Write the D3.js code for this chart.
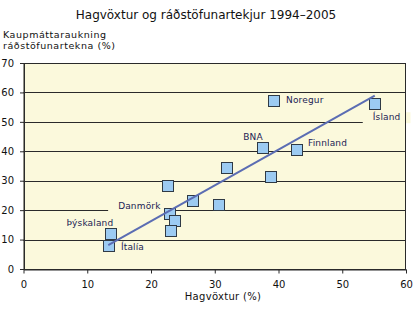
<!DOCTYPE html>
<html><head><meta charset="utf-8">
<script src="https://cdn.jsdelivr.net/npm/d3@7"></script>
<style>body{margin:0;background:#fff;} text{font-family:"DejaVu Sans",Verdana,sans-serif;}</style>
</head><body>
<svg id="c" width="414" height="324"></svg>
<script>
const countries = ["Ísland","Noregur","BNA","Finnland","Danmörk","Þýskaland","Ítalía","","","","","","",""];
const growth   = [55.1, 39.3, 37.6, 42.9, 23.0, 13.8, 13.4, 22.7, 26.6, 30.7, 23.8, 23.1, 31.9, 38.9];
const income   = [56.0, 57.2, 41.0, 40.4, 18.8, 11.8, 7.8, 28.2, 23.2, 21.9, 16.4, 12.9, 34.2, 31.2];
const trendX = [13.3, 55.1];
const trendY = [8.1, 58.9];
const xTicks = [0,10,20,30,40,50,60];
const yTicks = [0,10,20,30,40,50,60,70];
const title = "Hagvöxtur og ráðstöfunartekjur 1994–2005";
const xTitle = "Hagvöxtur (%)";
const yTitle = ["Kaupmáttaraukning","ráðstöfunartekna (%)"];
// label placement offsets (dx, dy from point center in px)
const labelPos = {"Ísland":[-2,16],"Noregur":[12,2.5],"BNA":[-20,-8],"Finnland":[11,-4],"Danmörk":[-52,-4.5],"Þýskaland":[-45,-8],"Ítalía":[12,4]};

const svg = d3.select("#c");
const L=23.5, R=406, T=63, B=269;
const x = d3.scaleLinear().domain([0,60]).range([L,R]);
const y = d3.scaleLinear().domain([0,70]).range([B,T]);
const bg = "#fbf9dc";

svg.append("text").attr("x",206).attr("y",19).attr("text-anchor","middle")
  .attr("font-size",12).attr("fill","#111").text(title);
yTitle.forEach((t,i)=>svg.append("text").attr("x",3).attr("y",38+i*10.5).attr("font-size",9.5)
  .attr("letter-spacing",0.55).attr("fill","#111").text(t));

svg.append("rect").attr("x",L).attr("y",T).attr("width",R-L).attr("height",B-T).attr("fill",bg);
// gridlines
svg.append("g").selectAll("line").data(yTicks.filter(d=>d>0&&d<70)).join("line")
  .attr("x1",L).attr("x2",R).attr("y1",d=>Math.round(y(d))+0.5).attr("y2",d=>Math.round(y(d))+0.5)
  .attr("stroke","#2a2a2a").attr("stroke-width",1);

// labels with background
const lg = svg.append("g");
countries.forEach((c,i)=>{
  if(!c) return;
  const p = labelPos[c];
  const tx = x(growth[i])+p[0], ty = y(income[i])+p[1];
  const t = lg.append("text").attr("x",tx).attr("y",ty).attr("font-size",9).attr("letter-spacing",0.15)
    .attr("fill","#1c1c55").text(c);
  const w = t.node().getComputedTextLength();
  lg.insert("rect","text").attr("x",tx-10).attr("y",ty-8).attr("width",w+20).attr("height",11).attr("fill",bg);
});
lg.selectAll("rect").lower();

// markers
svg.append("g").selectAll("rect").data(growth.map((g,i)=>[g,income[i]])).join("rect")
  .attr("x",d=>Math.round(x(d[0]))-5.5).attr("y",d=>Math.round(y(d[1]))-5.5)
  .attr("width",11).attr("height",11).attr("fill","#9ccbf2").attr("stroke","#2f3a45").attr("stroke-width",1);

// trend line
svg.append("line").attr("x1",x(trendX[0])).attr("y1",y(trendY[0])).attr("x2",x(trendX[1])).attr("y2",y(trendY[1]))
  .attr("stroke","#5b6db3").attr("stroke-width",2);

// frame
svg.append("rect").attr("x",L+0.5).attr("y",T+0.5).attr("width",R-L-1).attr("height",B-T).attr("fill","none").attr("stroke","#2a2a2a");

// axes
const xa = svg.append("g").attr("transform",`translate(0,${B+0.5})`)
  .call(d3.axisBottom(x).tickValues(xTicks).tickSize(4).tickPadding(7).tickSizeOuter(0));
const ya = svg.append("g").attr("transform",`translate(${L+0.5},0)`)
  .call(d3.axisLeft(y).tickValues(yTicks).tickSize(4).tickPadding(6).tickSizeOuter(0));
[xa,ya].forEach(a=>{a.select(".domain").attr("stroke","#2a2a2a");a.selectAll("line").attr("stroke","#2a2a2a");
  a.selectAll("text").attr("font-size",10).attr("fill","#111").style("font-family","DejaVu Sans");});

svg.append("text").attr("x",223).attr("y",300).attr("text-anchor","middle").attr("font-size",10)
  .attr("letter-spacing",0.3).attr("fill","#111").text(xTitle);
</script>
</body></html>
